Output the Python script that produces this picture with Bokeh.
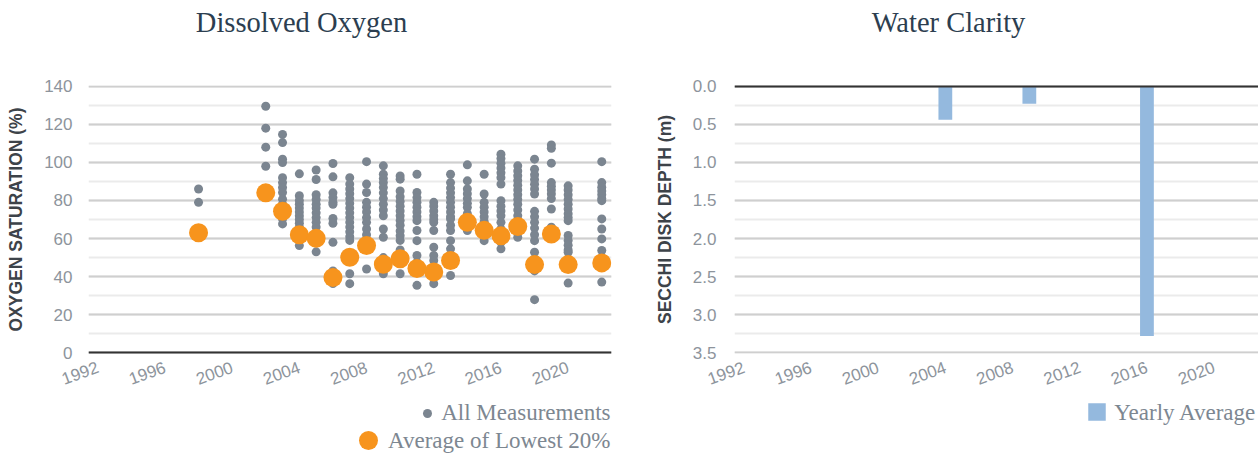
import numpy as np
from bokeh.plotting import figure
from bokeh.layouts import row, column
from bokeh.models import (Range1d, FixedTicker, SingleIntervalTicker, Span,
                          NumeralTickFormatter)
from bokeh.core.properties import value
from bokeh.embed import file_html
from bokeh.resources import INLINE

# ---------------- data ----------------
tick_years = [1992, 1996, 2000, 2004, 2008, 2012, 2016, 2020]

# Dissolved oxygen: all measurements per year (% saturation)
do_1998 = [86, 79, 63]
do_2002 = [129.5, 118, 108, 98, 84]
do_2003 = [114.7, 110.4, 101.7, 99.9, 92, 89.4, 86.8, 84.2, 80.7, 78, 75.5, 72, 70.3, 67.7]
do_2004 = [94, 82.5, 80, 78, 76, 74, 72, 70, 68, 66, 62, 59, 56.3]
do_2005 = [96, 91, 83, 80.5, 78, 76, 73.5, 71, 68.5, 66, 63, 60, 53]
do_2006 = [99.4, 92.4, 84, 81.5, 79, 78, 70.5, 68, 58, 43, 39.8, 36.4]
do_2007 = [92, 88.6, 86, 83.5, 81, 78.5, 76, 73.5, 71, 68.5, 66, 63.5, 61, 59, 50.2, 41.5, 36.3]
do_2008 = [100.4, 88.6, 84.2, 79, 76.5, 74, 71, 68.5, 65, 62, 59, 56.3, 44]
do_2009 = [98.2, 93.8, 91.5, 89.4, 86.8, 84, 81, 78, 75, 72, 65, 60.7, 50, 46.8, 41.5]
do_2010 = [92.9, 91.2, 85, 82, 79.5, 77, 74.5, 72, 69.5, 67, 64, 61.5, 59, 54, 49.4, 41.5]
do_2011 = [93.8, 84.2, 81.5, 79, 76.5, 74, 71.5, 69.4, 64.2, 58.9, 51.1, 47.5, 44.1, 35.4]
do_2012 = [79, 77, 74.5, 72, 70, 68.5, 64.2, 55.4, 51.1, 48.5, 44.5, 42.4, 36.3]
do_2013 = [93.8, 89.4, 86.5, 84, 81.5, 79, 76.5, 74, 71.5, 70.3, 67, 64.2, 58.9, 54.6, 50.5, 48.5, 40.6]
do_2014 = [98.7, 90.3, 86, 83.5, 81, 78.5, 76.4, 73, 70.5, 68.5, 66, 64.2]
do_2015 = [93.8, 83.4, 79, 76.5, 74, 71.5, 69, 67.7, 64.5, 62, 58.9]
do_2016 = [104.3, 102, 99.5, 97, 94.5, 92, 88.6, 79.9, 77, 74.5, 72, 68.5, 65, 61.6, 58, 54.6]
do_2017 = [98.2, 95.5, 93, 90.5, 88, 85.5, 83, 80.5, 78, 75, 72, 69, 66.3, 63.5, 60.7]
do_2018 = [101.7, 96.4, 93.5, 91, 88.5, 86, 83.4, 74.3, 71.5, 68.5, 65.5, 62, 58.9, 52.8, 49, 46.4, 43, 27.9]
do_2019 = [109.2, 107.4, 99.6, 89.4, 87.5, 85.5, 83.4, 81, 75.5, 65.9, 62.4, 60]
do_2020 = [87.7, 85.5, 83, 80.5, 78, 75.5, 73, 71, 69.4, 61.6, 59, 56.5, 54, 52.8, 49, 46.4, 36.6]
do_2022 = [100.4, 89.4, 87, 85, 83, 81, 79.9, 70.3, 65, 59.8, 53.7, 50, 47.3, 37.1]

do_years = [1998, 2002, 2003, 2004, 2005, 2006, 2007, 2008, 2009, 2010, 2011,
            2012, 2013, 2014, 2015, 2016, 2017, 2018, 2019, 2020, 2022]
do_lists = [do_1998, do_2002, do_2003, do_2004, do_2005, do_2006, do_2007, do_2008,
            do_2009, do_2010, do_2011, do_2012, do_2013, do_2014, do_2015, do_2016,
            do_2017, do_2018, do_2019, do_2020, do_2022]

# Average of lowest 20% per year
low20_avg = [63, 84, 74.3, 62, 60.1, 39.5, 50.2, 56.3, 46.5, 49.4, 44.3, 42.4, 48.5,
             68.5, 64.3, 61.4, 66.3, 46.3, 62.4, 46.3, 47.2]

# Water clarity: yearly average Secchi depth (m)
secchi_years = [2004, 2009, 2016]
secchi_depth = [0.44, 0.23, 3.28]

# ---------------- styles ----------------
TITLE_C = "#2c3e50"
TICK_C = "#8d949c"
AXLAB_C = "#3d4349"
LEG_C = "#7d8791"
GRAY = "#7b8590"
ORANGE = "#f7941d"
BLUE = "#94b9de"
MAJ_GRID = "#cfcfcf"
MIN_GRID = "#ebebeb"
SERIF = value("Liberation Serif")

W1, W2 = 645, 613
TITLE_H, MAIN_H, LEG_H = 50, 350, 53


def blank(width, height):
    """Decoration strip (titles / legend keys) whose frame maps 1:1 to pixels."""
    f = figure(width=width, height=height, output_backend="svg", toolbar_location=None,
               x_range=Range1d(0, width), y_range=Range1d(height, 0),
               x_axis_type=None, y_axis_type=None, min_border=0)
    f.outline_line_color = None
    return f


def style(p, ylabel, ystand):
    p.outline_line_color = None
    p.xgrid.grid_line_color = None
    p.ygrid.grid_line_color = MAJ_GRID
    p.ygrid.grid_line_width = 2
    p.ygrid.minor_grid_line_color = MIN_GRID
    p.ygrid.minor_grid_line_width = 2
    for ax in (p.xaxis, p.yaxis):
        ax.axis_line_color = None
        ax.major_tick_line_color = None
        ax.minor_tick_line_color = None
        ax.major_tick_out = 0
        ax.minor_tick_out = 0
        ax.major_tick_in = 0
        ax.minor_tick_in = 0
        ax.major_label_text_font = "Liberation Sans"
        ax.major_label_text_color = TICK_C
    p.xaxis.ticker = FixedTicker(ticks=tick_years)
    p.xaxis.major_label_orientation = np.radians(20)
    p.xaxis.major_label_text_font_size = "17px"
    p.xaxis.major_label_standoff = 13
    p.yaxis.major_label_text_font_size = "17px"
    p.yaxis.major_label_standoff = ystand
    p.yaxis.axis_label = ylabel
    p.yaxis.axis_label_text_font = "Liberation Sans"
    p.yaxis.axis_label_text_font_style = "bold"
    p.yaxis.axis_label_text_font_size = "17.5px"
    p.yaxis.axis_label_text_color = AXLAB_C
    p.yaxis.axis_label_standoff = 15


def key_text(f, x, y, label):
    f.text(x=[x], y=[y], text=[label], text_align="right", text_baseline="alphabetic",
           text_font=SERIF, text_font_size=value("23px"), text_color=LEG_C)


# ---------------- titles ----------------
t1 = blank(W1, TITLE_H)
t1.text(x=[301], y=[22], text=["Dissolved Oxygen"], text_align="center",
        text_baseline="alphabetic", text_font=SERIF, text_font_size=value("28.5px"),
        text_color=TITLE_C)
t2 = blank(W2, TITLE_H)
t2.text(x=[303], y=[22], text=["Water Clarity"], text_align="center",
        text_baseline="alphabetic", text_font=SERIF, text_font_size=value("28.5px"),
        text_color=TITLE_C)

# ---------------- left: dissolved oxygen ----------------
p1 = figure(width=W1, height=MAIN_H, output_backend="svg", toolbar_location=None,
            x_range=Range1d(1991.45, 2022.58), y_range=Range1d(-0.4, 140.4),
            min_border_left=88, min_border_right=34, min_border_top=35,
            min_border_bottom=47)
style(p1, "OXYGEN SATURATION (%)", 16)
yt1 = SingleIntervalTicker(interval=20, num_minor_ticks=2)
p1.yaxis.ticker = yt1
p1.ygrid.ticker = yt1

gx, gy = [], []
for yr, vals in zip(do_years, do_lists):
    gx.extend([yr] * len(vals))
    gy.extend(vals)

p1.scatter(gx, gy, size=9, marker="circle", fill_color=GRAY, line_color=None)
p1.scatter(do_years, low20_avg, size=19, marker="circle", fill_color=ORANGE,
           line_color=None)
p1.add_layout(Span(location=0, dimension="width", line_color="#333333", line_width=2.5))

# ---------------- right: water clarity ----------------
p2 = figure(width=W2, height=MAIN_H, output_backend="svg", toolbar_location=None,
            x_range=Range1d(1991.45, 2022.64), y_range=Range1d(3.51, -0.01),
            min_border_left=89, min_border_right=0, min_border_top=35,
            min_border_bottom=47)
style(p2, "SECCHI DISK DEPTH (m)", 18)
yt2 = SingleIntervalTicker(interval=0.5, num_minor_ticks=2)
p2.yaxis.ticker = yt2
p2.ygrid.ticker = yt2
p2.yaxis.formatter = NumeralTickFormatter(format="0.0")

p2.vbar(x=secchi_years, top=secchi_depth, bottom=0, width=0.82,
        fill_color=BLUE, line_color=None)
p2.add_layout(Span(location=0, dimension="width", line_color="#333333", line_width=2.5))

# ---------------- legend keys ----------------
l1 = blank(W1, LEG_H)
l1.scatter(x=[427], y=[13], size=9, marker="circle", fill_color=GRAY, line_color=None)
key_text(l1, 610, 11.7, "All Measurements")
l1.scatter(x=[368], y=[40], size=19, marker="circle", fill_color=ORANGE, line_color=None)
key_text(l1, 610, 40, "Average of Lowest 20%")

l2 = blank(W2, LEG_H)
l2.scatter(x=[451.5], y=[11.5], size=17.5, marker="square", fill_color=BLUE,
           line_color=None)
key_text(l2, 611, 11.7, "Yearly Average")

layout = column(row(t1, t2), row(p1, p2), row(l1, l2))
open("out.html", "w").write(file_html(layout, INLINE))
